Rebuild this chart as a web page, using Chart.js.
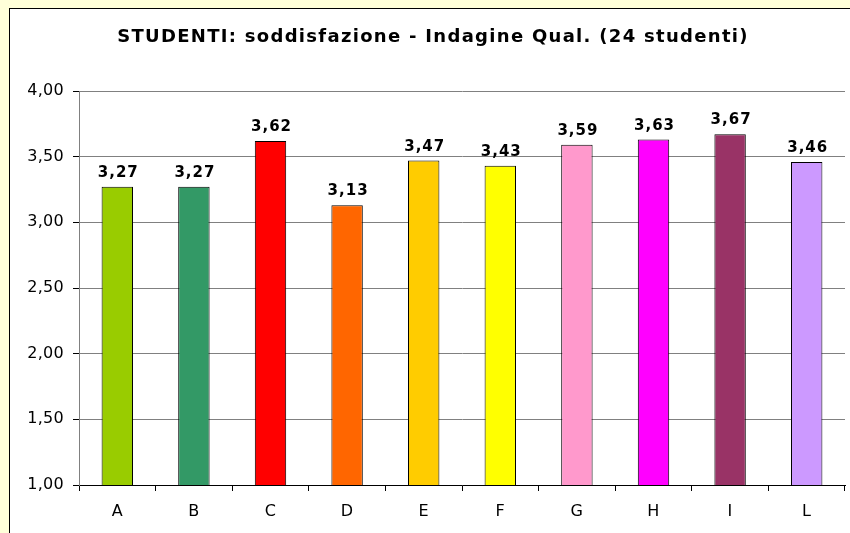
<!DOCTYPE html>
<html>
<head>
<meta charset="utf-8">
<script src="https://cdn.jsdelivr.net/npm/chart.js@4/dist/chart.umd.min.js"></script>
<style>
  body { margin: 0; background: #FFFFD9; overflow: hidden; }
  #frame { position: absolute; left: 9px; top: 8px; width: 900px; height: 600px;
           border: 1px solid #000; background: #fff; }
  #chart { position: absolute; left: 0; top: 0; }
</style>
</head>
<body>
<div id="frame"><canvas id="chart" width="840" height="524"></canvas></div>
<script>
// data
const categories = ['A', 'B', 'C', 'D', 'E', 'F', 'G', 'H', 'I', 'L'];
const scores = [3.27, 3.27, 3.62, 3.13, 3.47, 3.43, 3.59, 3.63, 3.67, 3.46];
const barColors = ['#99CC00', '#339966', '#FF0000', '#FF6600', '#FFCC00',
                   '#FFFF00', '#FF99CC', '#FF00FF', '#993366', '#CC99FF'];
const titleText = 'STUDENTI: soddisfazione - Indagine Qual. (24 studenti)';

const FONT = "'DejaVu Sans', Verdana, sans-serif";

function itNumber(v) {
  return v.toFixed(2).replace('.', ',');
}

// value labels above bars + the title (drawn by hand so letter spacing works)
const extraText = {
  id: 'extraText',
  beforeDraw(chart) {
    chart.ctx.letterSpacing = '0.3px';
  },
  afterDatasetsDraw(chart) {
    const ctx = chart.ctx;
    const meta = chart.getDatasetMeta(0);
    ctx.save();
    ctx.letterSpacing = '1px';
    ctx.font = 'bold 15px ' + FONT;
    ctx.fillStyle = '#000';
    ctx.textAlign = 'center';
    ctx.textBaseline = 'alphabetic';
    meta.data.forEach((bar, i) => {
      ctx.fillText(itNumber(scores[i]), bar.x + 1, bar.y - 10);
    });
    ctx.restore();
  },
  afterDraw(chart) {
    const ctx = chart.ctx;
    ctx.save();
    ctx.letterSpacing = '1.3px';
    ctx.font = 'bold 18px ' + FONT;
    ctx.fillStyle = '#000';
    ctx.textAlign = 'center';
    ctx.textBaseline = 'middle';
    ctx.fillText(titleText, chart.width / 2 + 3, 28);
    ctx.restore();
  }
};

new Chart(document.getElementById('chart'), {
  type: 'bar',
  data: {
    labels: categories,
    datasets: [{
      data: scores,
      backgroundColor: barColors,
      borderColor: '#000',
      borderWidth: 1,
      barPercentage: 0.41,
      categoryPercentage: 1.0
    }]
  },
  options: {
    responsive: false,
    animation: false,
    devicePixelRatio: 1,
    layout: { padding: { left: 0, right: 5, top: 82, bottom: 0 } },
    plugins: {
      legend: { display: false },
      tooltip: { enabled: false },
      title: { display: false }
    },
    scales: {
      x: {
        grid: { drawOnChartArea: false, tickLength: 6, color: '#000', offset: true },
        border: { color: '#000' },
        ticks: { color: '#000', font: { family: FONT, size: 16 }, padding: 11 },
        afterFit: s => { s.height = 48; }
      },
      y: {
        min: 1,
        max: 4,
        ticks: {
          stepSize: 0.5,
          color: '#000',
          padding: 9,
          font: { family: FONT, size: 16 },
          callback: v => itNumber(v)
        },
        grid: { color: '#808080', tickColor: '#000', tickLength: 6 },
        border: { color: '#808080' },
        afterFit: s => { s.width = 69; }
      }
    }
  },
  plugins: [extraText]
});
</script>
</body>
</html>
